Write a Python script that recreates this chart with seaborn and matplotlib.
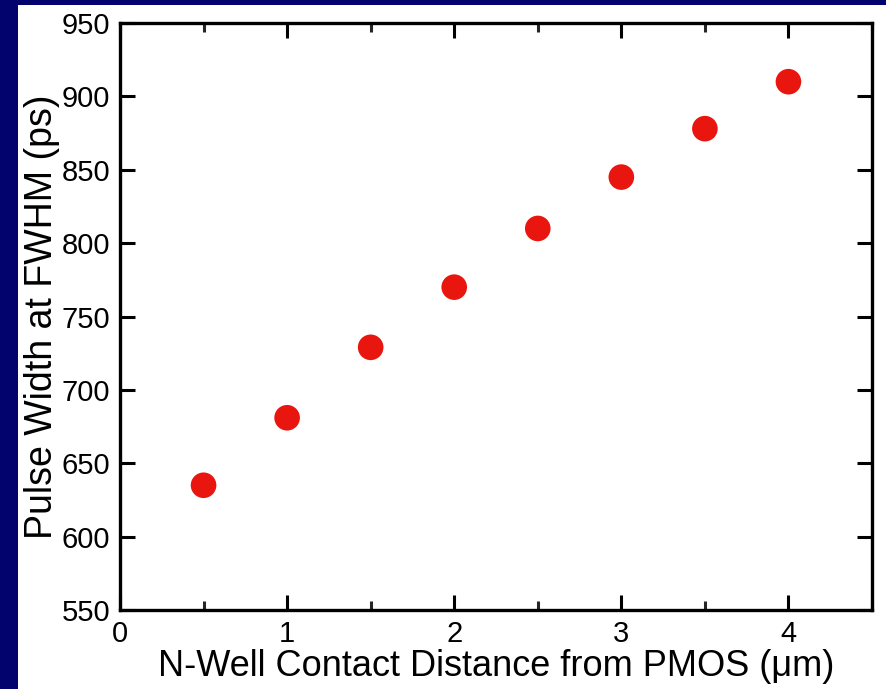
import numpy as np
import pandas as pd
import seaborn as sns
import matplotlib.pyplot as plt
from matplotlib.patches import Rectangle
from matplotlib.ticker import MultipleLocator

# values
distance_um = [0.5, 1.0, 1.5, 2.0, 2.5, 3.0, 3.5, 4.0]
pulse_width_ps = [635, 681, 729, 770, 810, 845, 878, 910]

df = pd.DataFrame({"distance": distance_um, "width": pulse_width_ps})

sns.set_style("ticks")
plt.rcParams["font.family"] = ["Liberation Sans", "DejaVu Sans"]
plt.rcParams["text.color"] = "black"
plt.rcParams["axes.labelcolor"] = "black"

fig = plt.figure(figsize=(8.87, 6.89), dpi=100)
fig.patch.set_facecolor("#03036e")
# white slide panel
fig.add_artist(Rectangle((18 / 887, 0), 1, 1 - 5 / 689, transform=fig.transFigure,
                         facecolor="white", edgecolor="none", zorder=0))

ax = fig.add_axes([120 / 887, 1 - 610 / 689, 752 / 887, 587 / 689])
ax.set_facecolor("white")

sns.scatterplot(data=df, x="distance", y="width", ax=ax, color="#e8160f",
                s=340, edgecolor="none", linewidth=0, legend=False, zorder=3)

ax.set_xlim(0, 4.5)
ax.set_ylim(550, 950)
ax.xaxis.set_major_locator(MultipleLocator(1))
ax.xaxis.set_minor_locator(MultipleLocator(0.5))
ax.yaxis.set_major_locator(MultipleLocator(50))

for side in ["left", "right", "top", "bottom"]:
    ax.spines[side].set_visible(True)
    ax.spines[side].set_linewidth(2.4)
    ax.spines[side].set_color("black")

ax.tick_params(which="major", direction="in", length=11, width=2.2,
               top=True, right=True, labelsize=21, pad=7, colors="black")
ax.tick_params(which="minor", direction="in", length=6.5, width=2.2,
               top=True, right=True)

ax.set_xlabel("N-Well Contact Distance from PMOS (\u03bcm)", fontsize=26, labelpad=1)
ax.set_ylabel("Pulse Width at FWHM (ps)", fontsize=27, labelpad=1)

fig.savefig("out.png", dpi=100, facecolor=fig.get_facecolor())
